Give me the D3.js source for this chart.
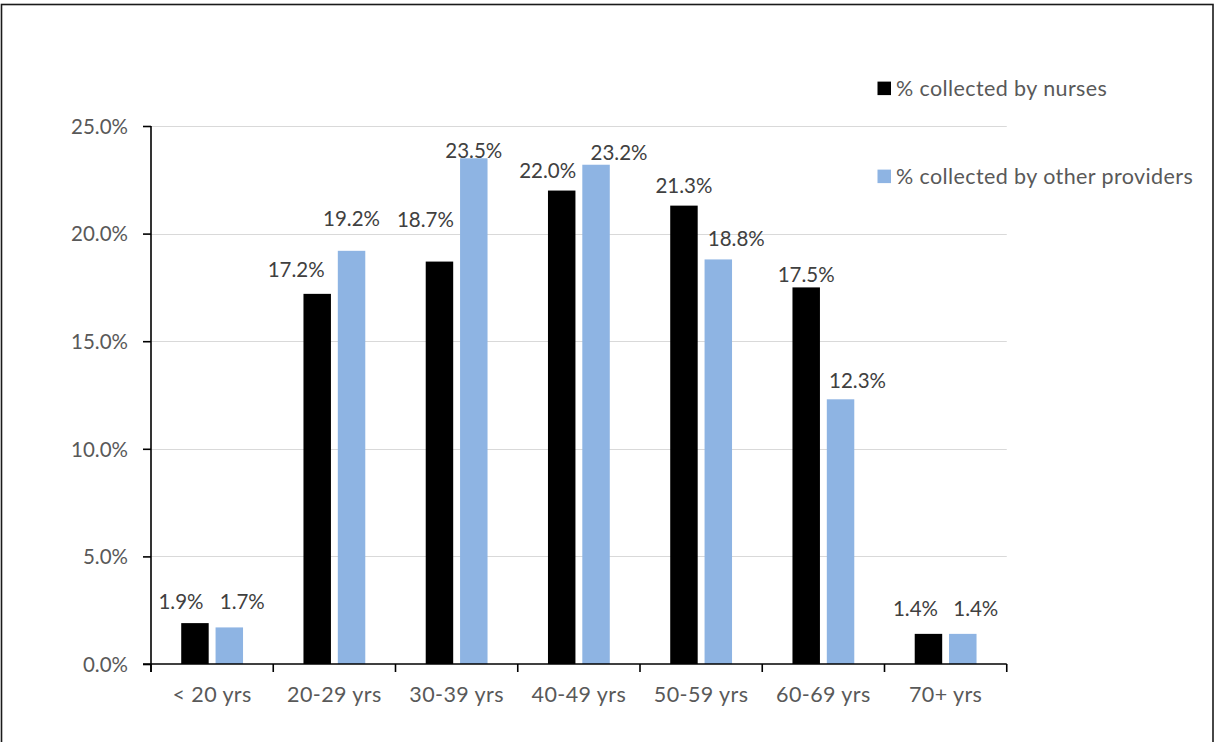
<!DOCTYPE html>
<html>
<head>
<meta charset="utf-8">
<script src="https://cdn.jsdelivr.net/npm/d3@7"></script>
<style>
  html, body { margin: 0; padding: 0; background: #fff; }
  svg { display: block; }
  text { font-family: Lato, "Open Sans", sans-serif; }
</style>
</head>
<body>
<svg id="chart" width="1215" height="742"></svg>
<script>
// Age groups on the category axis
const categories = ["< 20 yrs", "20-29 yrs", "30-39 yrs", "40-49 yrs", "50-59 yrs", "60-69 yrs", "70+ yrs"];
// Share of samples per age group (percent)
const nurses = [1.9, 17.2, 18.7, 22.0, 21.3, 17.5, 1.4];
const otherProviders = [1.7, 19.2, 23.5, 23.2, 18.8, 12.3, 1.4];
const seriesNames = ["% collected by nurses", "% collected by other providers"];
const yTicks = [0, 5, 10, 15, 20, 25];

// Hand-placed data label offsets: [dx from bar centre, label centre above bar top]
const labelPlacement = [
  [[-14, 21.6], [-21, 23.9], [-14, 42.3], [-14, 19.6], [0, 19.6], [0, 12.7], [-13, 24.9]],
  [[13, 25.9], [0, 31.8], [0, 7.8], [23, 11.7], [18, 20.4], [17, 18.3], [13, 24.9]]
];

const colors = ["#000000", "#8eb4e3"];
const fs = 20.5;       // numeric labels
const fsWords = 21.5;  // category and legend text
const wordSpacing = 0.4;

const svg = d3.select("#chart");
const W = 1215, H = 742;
const plotLeft = 151, plotRight = 1006.75, plotTop = 126, plotBottom = 664;

// Outer frame
svg.append("rect")
  .attr("x", 1.5).attr("y", 4.5)
  .attr("width", 1211.5).attr("height", H)
  .attr("fill", "none").attr("stroke", "#1a1a1a").attr("stroke-width", 1.6);

const x0 = d3.scaleBand().domain(categories).range([plotLeft, plotRight]).paddingInner(0).paddingOuter(0);
const x1 = d3.scaleBand().domain([0, 1]).range([0, x0.bandwidth()]).paddingInner(0.2).paddingOuter(0.88);
const y = d3.scaleLinear().domain([0, 25]).range([plotBottom, plotTop]);

// Horizontal gridlines
svg.append("g").selectAll("line")
  .data(yTicks.filter(d => d > 0))
  .join("line")
  .attr("x1", plotLeft).attr("x2", plotRight)
  .attr("y1", d => Math.round(y(d)) + 0.5).attr("y2", d => Math.round(y(d)) + 0.5)
  .attr("stroke", "#d9d9d9").attr("stroke-width", 1.2);

// Bars
const series = [nurses, otherProviders];
series.forEach((vals, s) => {
  svg.append("g").selectAll("rect")
    .data(vals)
    .join("rect")
    .attr("x", (d, i) => x0(categories[i]) + x1(s))
    .attr("width", x1.bandwidth())
    .attr("y", d => y(d))
    .attr("height", d => y(0) - y(d))
    .attr("fill", colors[s]);
});

// Y axis
const yAxis = d3.axisLeft(y).tickValues(yTicks).tickFormat(d => d.toFixed(1) + "%").tickSize(8).tickPadding(15);
const gy = svg.append("g").attr("transform", `translate(${plotLeft},0)`).call(yAxis);
gy.select(".domain").attr("stroke", "#000").attr("stroke-width", 1.6).attr("d", `M0,${plotTop}V${plotBottom + 8}`);
gy.selectAll(".tick line").attr("stroke", "#000").attr("stroke-width", 1.6);
gy.selectAll(".tick text").attr("fill", "#595959").attr("font-size", fs).attr("dy", "0.36em")
  .style("font-family", "Lato, sans-serif");

// X axis with tick marks between categories
const gx = svg.append("g").attr("transform", `translate(0,${plotBottom})`);
gx.append("line").attr("x1", plotLeft - 8).attr("x2", plotRight).attr("y1", 0).attr("y2", 0)
  .attr("stroke", "#000").attr("stroke-width", 1.6);
const boundaries = categories.map(c => x0(c)).concat([plotRight]);
gx.selectAll("line.tk").data(boundaries).join("line").attr("class", "tk")
  .attr("x1", d => d).attr("x2", d => d).attr("y1", 0).attr("y2", 8)
  .attr("stroke", "#000").attr("stroke-width", 1.6);
gx.selectAll("text").data(categories).join("text")
  .attr("x", d => x0(d) + x0.bandwidth() / 2)
  .attr("y", 38)
  .attr("text-anchor", "middle")
  .attr("fill", "#595959").attr("font-size", fsWords)
  .attr("letter-spacing", wordSpacing)
  .text(d => d);

// Data labels
series.forEach((vals, s) => {
  svg.append("g").selectAll("text")
    .data(vals)
    .join("text")
    .attr("x", (d, i) => x0(categories[i]) + x1(s) + x1.bandwidth() / 2 + labelPlacement[s][i][0])
    .attr("y", (d, i) => y(d) - labelPlacement[s][i][1] + fs * 0.36)
    .attr("text-anchor", "middle")
    .attr("fill", "#404040").attr("font-size", fs)
    .text(d => d.toFixed(1) + "%");
});

// Legend
const legend = svg.append("g");
const legendY = [88.3, 176.3];
seriesNames.forEach((name, s) => {
  legend.append("rect").attr("x", 877.5).attr("y", legendY[s] - 6.7).attr("width", 13.5).attr("height", 13.5)
    .attr("fill", colors[s]);
  legend.append("text").attr("x", 896).attr("y", legendY[s] + fsWords * 0.36)
    .attr("fill", "#595959").attr("font-size", fsWords)
    .attr("letter-spacing", wordSpacing)
    .text(name);
});
</script>
</body>
</html>
